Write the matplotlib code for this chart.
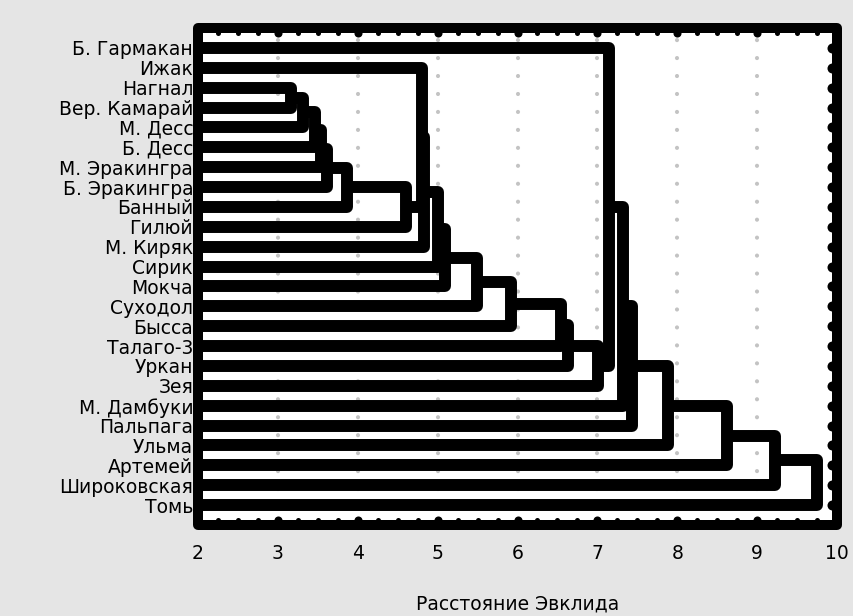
import matplotlib.pyplot as plt
import matplotlib.transforms as mtransforms
from matplotlib.patches import Rectangle
import numpy as np

leaves = ['Б. Гармакан', 'Ижак', 'Нагнал', 'Вер. Камарай', 'М. Десс', 'Б. Десс',
          'М. Эракингра', 'Б. Эракингра', 'Банный', 'Гилюй', 'М. Киряк', 'Сирик',
          'Мокча', 'Суходол', 'Бысса', 'Талаго-3', 'Уркан', 'Зея', 'М. Дамбуки',
          'Пальпага', 'Ульма', 'Артемей', 'Широковская', 'Томь']

# joining steps: ids 0..23 are the leaves, step k creates cluster 24 + k
join_a = [2, 24, 25, 26, 27, 28, 29, 1, 31, 32, 33, 34, 35, 36, 37, 38,
          0, 40, 41, 42, 43, 44, 45]
join_b = [3, 4, 5, 6, 7, 8, 9, 30, 10, 11, 12, 13, 14, 15, 16, 17,
          39, 18, 19, 20, 21, 22, 23]
join_dist = [3.17, 3.32, 3.47, 3.54, 3.61, 3.87, 4.60, 4.80, 4.83, 5.00, 5.09,
             5.49, 5.92, 6.55, 6.63, 7.01, 7.15, 7.32, 7.43, 7.89, 8.62, 9.22, 9.75]

x_ticks = [2, 3, 4, 5, 6, 7, 8, 9, 10]

plt.rcParams['font.family'] = ['DejaVu Sans']

fig = plt.figure(figsize=(8.54, 6.16), dpi=100, facecolor='#e5e5e5')
ax = fig.add_axes([198 / 854, 1 - 525 / 616, (837 - 198) / 854, (525 - 28) / 616])
ax.set_facecolor('white')

# tree lines
pos = {i: float(i) for i in range(len(leaves))}
hgt = {i: 0.0 for i in range(len(leaves))}
for k, (a, b, d) in enumerate(zip(join_a, join_b, join_dist)):
    ax.plot([hgt[a], d, d, hgt[b]], [pos[a], pos[a], pos[b], pos[b]],
            color='black', lw=8.6, solid_joinstyle='round', solid_capstyle='butt', zorder=3)
    node = len(leaves) + k
    pos[node] = (pos[a] + pos[b]) / 2
    hgt[node] = d

ax.set_xlim(2, 10)
ax.set_ylim(24, -1)
ax.set_xticks(x_ticks)
ax.set_xticklabels([str(t) for t in x_ticks])
ax.set_yticks(range(len(leaves)))
ax.set_yticklabels(leaves)
ax.tick_params(axis='x', length=0, pad=14, labelsize=13.5)
ax.tick_params(axis='y', length=0, pad=3.5, labelsize=13.5)
ax.set_xlabel('Расстояние Эвклида', fontsize=13.5, labelpad=22)

ax.set_axisbelow(True)
ax.xaxis.grid(True, color='#c3c3c3', lw=3, linestyle=(0, (0.01, 4.3)), dash_capstyle='round')
for s in ax.spines.values():
    s.set_visible(False)

# heavy frame with round corners
ax.add_patch(Rectangle((0, 0), 1, 1, transform=ax.transAxes, fill=False, lw=7.2,
                       ec='black', joinstyle='round', clip_on=False, zorder=6))

# little round tick bumps on the inner side of the frame
px = 1 / 100
xt = ax.get_xaxis_transform()
yt = ax.get_yaxis_transform()
top = xt + mtransforms.ScaledTranslation(0, -5 * px, fig.dpi_scale_trans)
bot = xt + mtransforms.ScaledTranslation(0, 5 * px, fig.dpi_scale_trans)
rgt = yt + mtransforms.ScaledTranslation(-5 * px, 0, fig.dpi_scale_trans)
lft = yt + mtransforms.ScaledTranslation(5 * px, 0, fig.dpi_scale_trans)
minor_x = np.arange(2, 10.01, 0.25)
for tr, yv in [(top, 1), (bot, 0)]:
    ax.plot(minor_x, [yv] * len(minor_x), 'o', ms=3.6, color='black', mew=0,
            transform=tr, clip_on=False, zorder=6)
    ax.plot(x_ticks, [yv] * len(x_ticks), 'o', ms=5.8, color='black', mew=0,
            transform=tr, clip_on=False, zorder=6)
for tr, xv in [(rgt, 1), (lft, 0)]:
    ax.plot([xv] * len(leaves), range(len(leaves)), 'o', ms=7.2, color='black', mew=0,
            transform=tr, clip_on=False, zorder=6)

fig.savefig('out.png', dpi=100, facecolor=fig.get_facecolor())
